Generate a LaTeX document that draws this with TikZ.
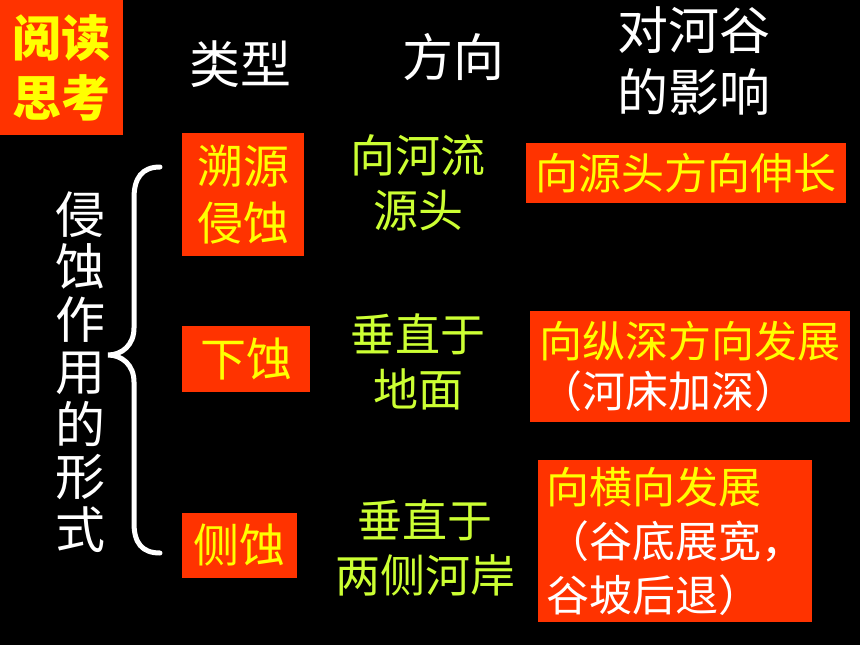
\documentclass[tikz,border=0pt]{standalone}
\usepackage{fontspec}
\setmainfont{Noto Sans CJK SC}
\usepackage{tikz}
\usetikzlibrary{positioning}
\definecolor{boxred}{RGB}{255,51,0}
\definecolor{txtyellow}{RGB}{255,255,0}
\definecolor{dirgreen}{RGB}{204,255,51}
\newcommand\hanbox{\fontsize{43}{57}\selectfont}
\newcommand\hanhead{\fontsize{51}{62}\selectfont}

\begin{document}
\begin{tikzpicture}[x=1pt,y=-1pt,
  redbox/.style={fill=boxred, text=txtyellow, inner sep=0pt, align=center, font=\hanbox},
  head/.style={text=white, align=center, font=\hanhead},
  dirtext/.style={text=dirgreen, align=center, font=\fontsize{45}{55}\selectfont},
  brace/.style={draw=white, line width=5pt, line cap=round}]
\useasboundingbox (0,0) rectangle (860,645);
\fill[black] (0,0) rectangle (860,645);
% headings
\node[redbox, minimum width=123pt, minimum height=135pt, font=\bfseries\fontsize{49}{60}\selectfont] (yuedu) at (61.5,67.5) {阅读\\思考};
\node[head] (leixing) at (240,64) {类型};
\node[head] (fangxiang) at (453,57) {方向};
\node[head] (yingxiang) at (694,61) {对河谷\\的影响};
% left label and brace
\node[text=white, align=center, font=\fontsize{50}{52.5}\selectfont] (xingshi) at (80,372) {侵\\蚀\\作\\用\\的\\形\\式};
\draw[brace] (160,167) .. controls (142,167) and (134,178) .. (134,198) -- (134,328)
  .. controls (134,345) and (122,355) .. (108,355)
  .. controls (122,355) and (134,365) .. (134,382) -- (134,523)
  .. controls (134,543) and (142,553) .. (160,553);
% row 1
\node[redbox, minimum width=122pt, minimum height=123pt, font=\fontsize{46}{57}\selectfont] (suyuan) at (243,194.5) {溯源\\侵蚀};
\node[dirtext] (dir1) at (418,183) {向河流\\源头};
\node[redbox, minimum width=320pt, minimum height=60pt] (eff1) at (686,173) {向源头方向伸长};
% row 2
\node[redbox, minimum width=128pt, minimum height=66pt, font=\fontsize{46}{57}\selectfont] (xiashi) at (246,359) {下蚀};
\node[dirtext] (dir2) at (418,362) {垂直于\\地面};
\node[redbox, minimum width=320pt, minimum height=111pt, align=left, font=\fontsize{43}{50}\selectfont] (eff2) at (690,366.5) {向纵深方向发展\\{\color{white}（河床加深）}};
% row 3
\node[redbox, minimum width=115pt, minimum height=65pt, font=\fontsize{46}{57}\selectfont] (ceshi) at (239.5,545.5) {侧蚀};
\node[dirtext] (dir3) at (425,548) {垂直于\\两侧河岸};
\node[redbox, minimum width=274pt, minimum height=162pt, align=left, font=\fontsize{43}{54}\selectfont] (eff3) at (675,541) {向横向发展\\{\color{white}（谷底展宽，}\\{\color{white}谷坡后退）}};
\end{tikzpicture}
\end{document}
